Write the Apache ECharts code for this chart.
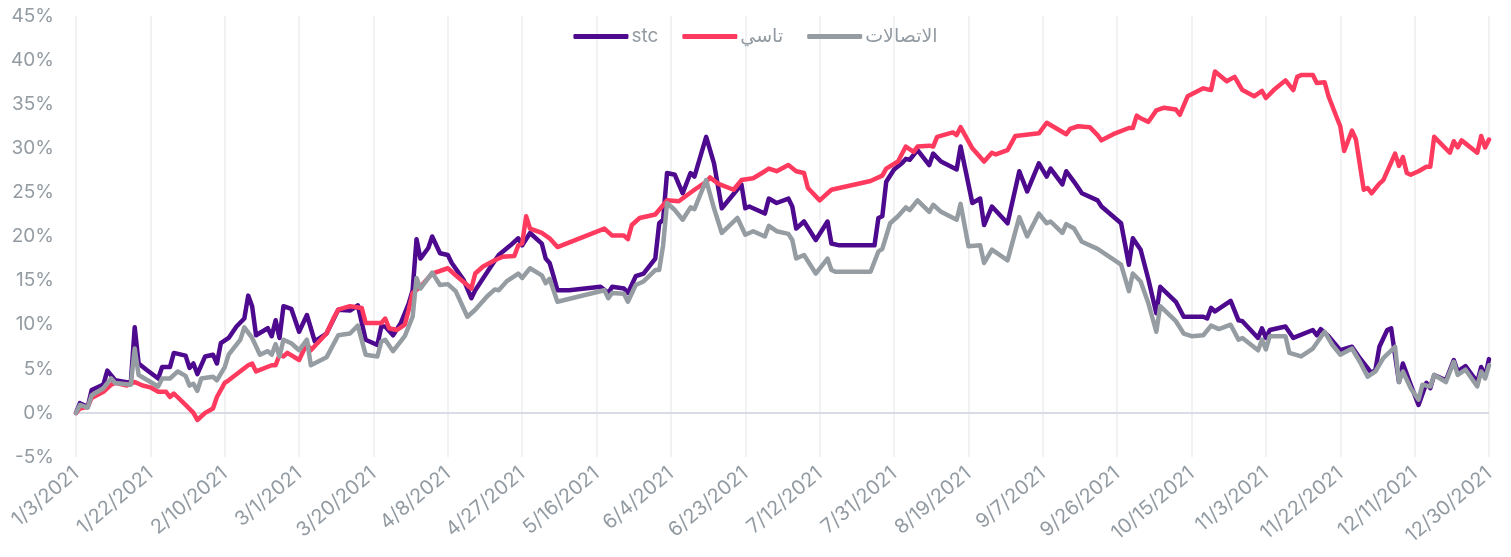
<!DOCTYPE html>
<html>
<head>
<meta charset="utf-8">
<script src="https://cdn.jsdelivr.net/npm/echarts@6/dist/echarts.min.js"></script>
<style>
  html, body { margin: 0; padding: 0; background: #fff; }
  #chart { width: 1511px; height: 557px; }
</style>
</head>
<body>
<div id="chart"></div>
<script>
// series names (legend)
var names = ['stc', 'تاسي', 'الاتصالات'];

// y ticks
var yMin = -5, yMax = 45, yStep = 5;

// x axis: one category per calendar day from 1/3/2021 to 12/30/2021, a label every 19 days
var startDate = Date.UTC(2021, 0, 3);
var dayCount = 362;
var labelEvery = 19;

// [day index from 1/3/2021, % change]
var stc = [
  [0, 0], [1, 1.1], [3, 0.7], [4, 2.6], [7, 3.2], [8, 4.8], [10, 3.7], [14, 3.4], [15, 9.7], [16, 5.6],
  [18, 4.9], [21, 3.9], [22, 5.2], [24, 5.2], [25, 6.8], [28, 6.5], [29, 5.1], [30, 5.6], [31, 4.4], [33, 6.4],
  [35, 6.6], [36, 5.6], [37, 7.9], [39, 8.5], [41, 9.8], [43, 10.7], [44, 13.3], [45, 12.1], [46, 8.8], [49, 9.6],
  [50, 8.7], [51, 10.5], [52, 8.5], [53, 12.1], [55, 11.8], [57, 9.2], [59, 11.1], [61, 8.1], [64, 9.0], [67, 11.7],
  [70, 11.6], [72, 12.2], [74, 8.3], [77, 7.7], [78, 9.8], [79, 9.8], [81, 8.8], [83, 10.2], [85, 12.4], [86, 13.9],
  [87, 19.7], [88, 17.5], [90, 18.7], [91, 20.0], [93, 18.1], [95, 17.9], [96, 17.0], [99, 15.1], [101, 13.0], [102, 13.9],
  [106, 16.6], [108, 17.9], [111, 19.0], [113, 19.8], [114, 19.0], [116, 20.4], [119, 19.2], [120, 17.5], [121, 17.0], [122, 15.5],
  [123, 13.9], [126, 13.9], [134, 14.3], [136, 13.6], [137, 14.3], [140, 14.1], [141, 13.6], [143, 15.5], [145, 15.8], [148, 17.5],
  [149, 21.5], [150, 21.9], [151, 27.2], [153, 27.0], [155, 24.9], [157, 27.2], [158, 26.8], [161, 31.3], [163, 28.3], [165, 23.2],
  [170, 25.9], [171, 23.2], [172, 23.4], [176, 22.6], [177, 24.3], [179, 23.8], [182, 24.3], [183, 23.4], [184, 20.9], [186, 21.7],
  [189, 19.6], [192, 21.7], [193, 19.2], [195, 19.0], [204, 19.0], [205, 22.1], [206, 22.3], [207, 26.2], [209, 27.6], [211, 28.3],
  [212, 28.8], [213, 28.7], [215, 29.8], [218, 28.1], [219, 29.4], [221, 28.5], [225, 27.6], [226, 30.2], [229, 23.8], [231, 24.3],
  [232, 21.3], [234, 23.4], [238, 21.5], [241, 27.4], [243, 25.1], [246, 28.3], [248, 26.8], [249, 27.7], [252, 25.9], [253, 27.4],
  [255, 26.2], [257, 24.9], [261, 24.1], [262, 23.4], [267, 21.5], [269, 16.8], [270, 19.8], [272, 18.5], [274, 15.1], [276, 11.3],
  [277, 14.3], [281, 12.6], [283, 10.9], [288, 10.9], [289, 10.7], [290, 11.9], [291, 11.5], [295, 12.7], [297, 10.5], [298, 10.4],
  [302, 8.5], [303, 9.6], [304, 8.5], [305, 9.4], [309, 9.8], [311, 8.5], [316, 9.4], [317, 8.8], [318, 9.5], [320, 8.7],
  [323, 7.1], [326, 7.5], [328, 6.2], [331, 4.5], [332, 4.9], [333, 7.5], [335, 9.4], [336, 9.6], [338, 3.5], [339, 5.6],
  [341, 3.2], [343, 0.9], [345, 3.4], [346, 2.8], [347, 4.3], [350, 3.7], [352, 6.0], [353, 4.7], [355, 5.3], [358, 3.5],
  [359, 5.2], [360, 4.1], [361, 6.1]
];

var tasi = [
  [0, 0], [1, 0.5], [3, 0.7], [4, 1.7], [7, 2.4], [9, 3.2], [10, 3.4], [13, 3.1], [15, 3.5], [17, 3.1],
  [19, 2.9], [21, 2.4], [23, 2.4], [24, 1.8], [25, 2.2], [28, 0.9], [30, 0], [31, -0.8], [33, 0], [35, 0.5],
  [36, 1.8], [38, 3.4], [39, 3.7], [44, 5.4], [45, 5.6], [46, 4.7], [50, 5.4], [51, 5.4], [52, 6.6], [53, 6.4],
  [54, 6.8], [57, 6.0], [59, 7.9], [60, 7.1], [64, 9.0], [66, 10.9], [67, 11.7], [70, 12.1], [73, 11.9], [74, 10.2],
  [78, 10.2], [79, 10.7], [80, 9.6], [82, 9.4], [84, 10.0], [85, 11.7], [86, 13.6], [88, 14.3], [91, 15.8], [95, 16.4],
  [97, 15.6], [101, 14.1], [102, 15.8], [104, 16.6], [107, 17.3], [109, 17.7], [112, 17.8], [113, 19.0], [114, 19.2], [115, 22.3],
  [116, 20.9], [119, 20.4], [121, 19.8], [123, 18.8], [135, 20.9], [137, 20.1], [140, 20.1], [141, 19.7], [142, 21.3], [144, 22.1],
  [148, 22.5], [151, 24.1], [154, 24.0], [158, 25.3], [161, 26.2], [162, 26.7], [164, 26.0], [168, 25.3], [170, 26.4], [173, 26.6],
  [176, 27.4], [177, 27.7], [179, 27.4], [182, 28.1], [184, 27.4], [186, 27.2], [187, 25.5], [190, 24.1], [193, 25.3], [203, 26.3],
  [206, 26.9], [207, 27.7], [210, 28.5], [212, 30.2], [214, 29.6], [215, 30.2], [218, 30.3], [219, 30.2], [220, 31.3], [224, 31.8],
  [225, 31.5], [226, 32.4], [229, 30.0], [232, 28.5], [234, 29.5], [235, 29.3], [238, 29.8], [240, 31.4], [246, 31.7], [248, 32.9],
  [253, 31.6], [254, 32.2], [256, 32.5], [259, 32.4], [261, 31.5], [262, 30.9], [265, 31.6], [269, 32.3], [270, 32.3], [271, 33.7],
  [272, 33.4], [274, 33.0], [276, 34.3], [278, 34.6], [281, 34.4], [282, 33.8], [284, 35.9], [288, 36.8], [290, 36.6], [291, 38.7],
  [294, 37.6], [296, 38.1], [298, 36.6], [301, 35.9], [303, 36.5], [304, 35.7], [306, 36.6], [309, 37.7], [311, 36.6], [312, 38.1],
  [313, 38.3], [316, 38.3], [317, 37.4], [319, 37.5], [320, 35.9], [322, 33.6], [323, 32.5], [324, 29.7], [326, 32.0], [327, 31.0],
  [329, 25.3], [330, 25.5], [331, 24.9], [333, 26.0], [334, 26.4], [337, 29.4], [338, 28.0], [339, 29.0], [340, 27.2], [341, 27.0],
  [343, 27.4], [345, 27.9], [346, 27.9], [347, 31.3], [351, 29.5], [352, 30.8], [353, 30.1], [354, 30.9], [358, 29.5], [359, 31.4],
  [360, 30.1], [361, 31.0]
];

var stcOther = [
  [0, 0], [1, 0.9], [3, 0.6], [4, 2.0], [7, 2.8], [9, 3.9], [10, 3.4], [14, 3.2], [15, 7.3], [16, 4.3],
  [21, 3.0], [22, 3.9], [24, 3.9], [26, 4.7], [28, 4.2], [29, 3.1], [30, 3.3], [31, 2.5], [32, 3.9], [35, 4.1],
  [36, 3.7], [38, 5.2], [39, 6.6], [42, 8.3], [43, 9.7], [45, 8.5], [47, 6.6], [49, 7.0], [50, 6.6], [51, 7.8],
  [52, 6.4], [53, 8.3], [55, 7.9], [57, 7.1], [59, 8.3], [60, 5.4], [64, 6.3], [67, 8.8], [70, 9.0], [72, 9.9],
  [74, 6.6], [77, 6.4], [78, 8.1], [79, 8.3], [81, 7.0], [84, 8.7], [86, 10.9], [87, 15.3], [88, 14.1], [91, 15.9],
  [93, 14.5], [95, 14.6], [97, 13.8], [100, 10.9], [102, 11.7], [105, 13.2], [107, 14.0], [108, 13.9], [110, 14.9], [113, 15.8],
  [114, 15.3], [116, 16.4], [119, 15.6], [120, 14.7], [121, 15.2], [123, 12.6], [135, 13.9], [136, 13.0], [137, 13.6], [140, 13.5],
  [141, 12.6], [143, 14.5], [145, 14.9], [148, 16.2], [149, 16.2], [150, 19.0], [151, 23.8], [153, 23.0], [155, 21.9], [157, 23.3],
  [158, 23.1], [161, 26.4], [163, 23.2], [165, 20.4], [169, 22.1], [171, 20.2], [173, 20.6], [176, 20.0], [177, 21.2], [179, 20.6],
  [182, 20.3], [183, 19.6], [184, 17.5], [186, 17.9], [189, 15.8], [192, 17.5], [193, 16.2], [194, 16.0], [203, 16.0], [205, 18.3],
  [206, 18.6], [208, 21.5], [210, 22.3], [212, 23.3], [213, 23.0], [215, 24.1], [218, 22.8], [219, 23.6], [221, 22.8], [225, 21.9],
  [226, 23.7], [228, 18.9], [231, 19.0], [232, 17.0], [234, 18.5], [238, 17.3], [241, 22.2], [243, 20.0], [246, 22.6], [248, 21.5],
  [249, 21.7], [252, 20.4], [253, 21.4], [255, 20.9], [257, 19.4], [261, 18.6], [267, 16.8], [269, 13.8], [270, 15.8], [272, 14.9],
  [274, 12.4], [276, 9.2], [277, 12.1], [281, 10.4], [283, 9.0], [285, 8.7], [288, 8.8], [290, 9.9], [292, 9.5], [295, 10.0],
  [297, 8.3], [298, 8.5], [302, 7.1], [303, 8.3], [304, 7.2], [305, 8.7], [309, 8.7], [310, 6.8], [313, 6.4], [316, 7.3],
  [319, 9.2], [321, 7.7], [323, 6.6], [326, 7.3], [328, 5.8], [330, 4.1], [332, 4.7], [334, 6.2], [337, 7.5], [338, 3.5],
  [339, 4.7], [341, 2.8], [343, 1.5], [344, 3.2], [346, 3.0], [347, 4.3], [350, 3.5], [352, 5.8], [353, 4.3], [355, 4.9],
  [358, 3.0], [359, 4.7], [360, 3.9], [361, 5.4]
];

var colors = ['#4e0a8e', '#ff3a5f', '#959da3'];
var textColor = '#939ba2';
var font = 'Inter, "Noto Sans", "DejaVu Sans", sans-serif';

var days = [];
for (var i = 0; i < dayCount; i++) {
    var d = new Date(startDate + i * 86400000);
    days.push((d.getUTCMonth() + 1) + '/' + d.getUTCDate() + '/' + d.getUTCFullYear());
}

function lineSeries(idx, data) {
    return {
        name: names[idx],
        type: 'line',
        data: data,
        showSymbol: false,
        symbol: 'none',
        lineStyle: { width: 4.5, color: colors[idx], cap: 'round', join: 'round' },
        itemStyle: { color: colors[idx] }
    };
}

var chart = echarts.init(document.getElementById('chart'));
var series = [lineSeries(0, stc), lineSeries(1, tasi), lineSeries(2, stcOther)];
// zero line
series[0].markLine = {
    silent: true,
    symbol: 'none',
    label: { show: false },
    lineStyle: { color: '#d9dce4', width: 2, type: 'solid' },
    data: [{ yAxis: 0 }],
    z: 1
};

chart.setOption({
    animation: false,
    color: colors,
    legend: {
        top: 22,
        left: 'center',
        icon: 'roundRect',
        itemWidth: 55,
        itemHeight: 5,
        itemGap: 24,
        textStyle: { color: textColor, fontSize: 19, fontFamily: font, padding: [0, 0, 0, -2] },
        data: names
    },
    grid: { left: 76, right: 22, top: 16, bottom: 100 },
    xAxis: {
        type: 'category',
        data: days,
        boundaryGap: false,
        axisLine: { show: false },
        axisTick: { show: false },
        axisLabel: {
            interval: labelEvery - 1,
            rotate: 40,
            margin: 14,
            color: textColor,
            fontSize: 20,
            fontFamily: font
        },
        splitLine: {
            show: true,
            interval: labelEvery - 1,
            lineStyle: { color: '#f2f2f5', width: 2 }
        }
    },
    yAxis: {
        type: 'value',
        min: yMin,
        max: yMax,
        interval: yStep,
        axisLine: { show: false },
        axisTick: { show: false },
        splitLine: { show: false },
        axisLabel: {
            formatter: '{value}%',
            margin: 22,
            color: textColor,
            fontSize: 19,
            fontFamily: font
        }
    },
    series: series
});
</script>
</body>
</html>
